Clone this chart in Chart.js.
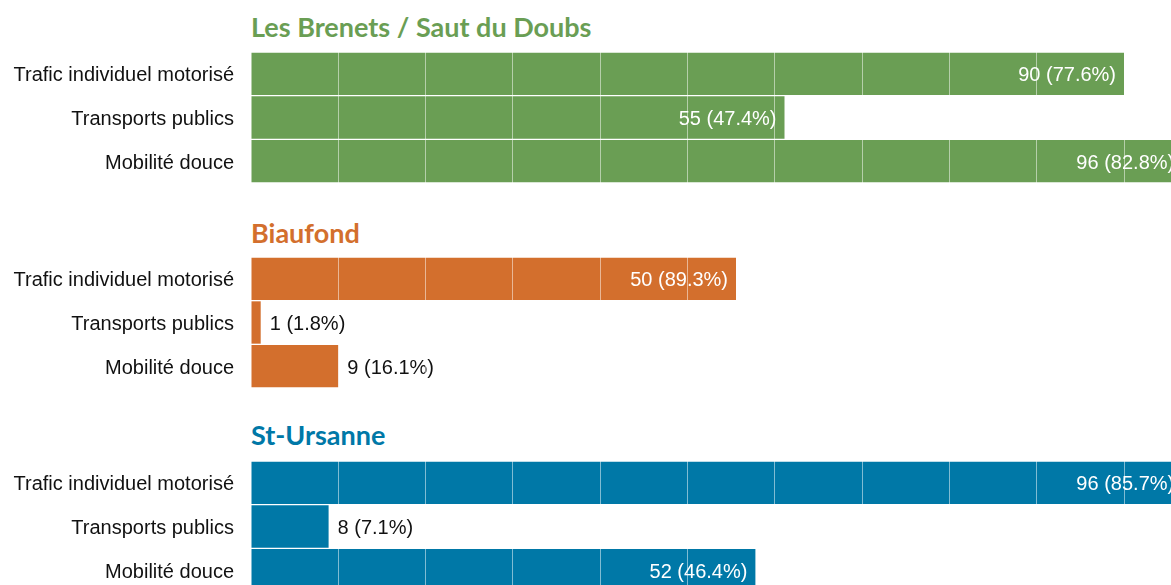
<!DOCTYPE html>
<html>
<head>
<meta charset="utf-8">
<script src="https://cdn.jsdelivr.net/npm/chart.js@4.4.1/dist/chart.umd.min.js"></script>
<style>
  html, body { margin: 0; padding: 0; background: #fff; }
  body { width: 1171px; height: 585px; overflow: hidden; position: relative; }
  .title { position: absolute; left: 251px; font-family: Lato, sans-serif; font-weight: 700;
           font-size: 27px; line-height: 1; white-space: nowrap; }
  .panel { position: absolute; left: 0; }
  canvas { display: block; }
</style>
</head>
<body>
<div class="title" id="t0" style="top:13px;color:#6a9e54"></div>
<div class="panel" style="top:52px"><canvas id="c0" width="1221" height="131"></canvas></div>
<div class="title" id="t1" style="top:219px;color:#d36f2d"></div>
<div class="panel" style="top:257px"><canvas id="c1" width="1221" height="131"></canvas></div>
<div class="title" id="t2" style="top:421px;color:#0078a7"></div>
<div class="panel" style="top:461px"><canvas id="c2" width="1221" height="131"></canvas></div>
<script>
// categories shared by the three sites
const categories = ['Trafic individuel motorisé', 'Transports publics', 'Mobilité douce'];

const siteNames = ['Les Brenets / Saut du Doubs', 'Biaufond', 'St-Ursanne'];
const siteColors = ['#6a9e54', '#d36f2d', '#0078a7'];

const brenetsValues = [90, 55, 96];
const brenetsPercent = [77.6, 47.4, 82.8];
const biaufondValues = [50, 1, 9];
const biaufondPercent = [89.3, 1.8, 16.1];
const ursanneValues = [96, 8, 52];
const ursannePercent = [85.7, 7.1, 46.4];

const siteValues = [brenetsValues, biaufondValues, ursanneValues];
const sitePercent = [brenetsPercent, biaufondPercent, ursannePercent];

const labelFont = '"Liberation Sans", Arial, sans-serif';

// value + share written at the end of each bar
const barLabels = {
  id: 'barLabels',
  afterDatasetsDraw(chart) {
    const ctx = chart.ctx;
    const meta = chart.getDatasetMeta(0);
    const pct = chart.options.plugins.barLabels.percent;
    ctx.save();
    ctx.font = '20px ' + labelFont;
    ctx.textBaseline = 'middle';
    meta.data.forEach((bar, i) => {
      const v = chart.data.datasets[0].data[i];
      const txt = v + ' (' + pct[i].toFixed(1) + '%)';
      const w = ctx.measureText(txt).width;
      const barW = bar.x - bar.base;
      if (w + 16 < barW) {
        ctx.fillStyle = '#fff';
        ctx.textAlign = 'right';
        ctx.fillText(txt, bar.x - 8, bar.y + 2);
      } else {
        ctx.fillStyle = '#111';
        ctx.textAlign = 'left';
        ctx.fillText(txt, bar.x + 9, bar.y + 2);
      }
    });
    ctx.restore();
  }
};

// no extra room above/below the bars for half-label heights
function noPad(s) {
  s.paddingTop = 0;
  s.paddingBottom = 0;
  s.paddingLeft = 0;
  s.paddingRight = 0;
}

for (let k = 0; k < 3; k++) {
  document.getElementById('t' + k).textContent = siteNames[k];
  new Chart(document.getElementById('c' + k), {
    type: 'bar',
    data: {
      labels: categories,
      datasets: [{
        data: siteValues[k],
        backgroundColor: siteColors[k],
        borderWidth: 0,
        barPercentage: 0.97,
        categoryPercentage: 1
      }]
    },
    options: {
      indexAxis: 'y',
      responsive: false,
      animation: false,
      layout: { padding: 0 },
      plugins: {
        legend: { display: false },
        tooltip: { enabled: false },
        barLabels: { percent: sitePercent[k] }
      },
      scales: {
        x: {
          min: 0,
          max: 100,
          ticks: { display: false, stepSize: 9 },
          border: { display: false },
          grid: {
            z: 1,
            drawTicks: false,
            lineWidth: 1,
            color: (c) => c.tick && c.tick.value === 0 ? 'rgba(0,0,0,0)' : 'rgba(255,255,255,0.5)'
          },
          afterFit(s) { s.height = 0; noPad(s); }
        },
        y: {
          grid: { display: false },
          border: { display: false },
          ticks: {
            padding: 9,
            labelOffset: 2,
            color: '#111',
            font: { family: labelFont, size: 20 }
          },
          afterFit(s) { s.width = 251; noPad(s); }
        }
      }
    },
    plugins: [barLabels]
  });
}
</script>
</body>
</html>
